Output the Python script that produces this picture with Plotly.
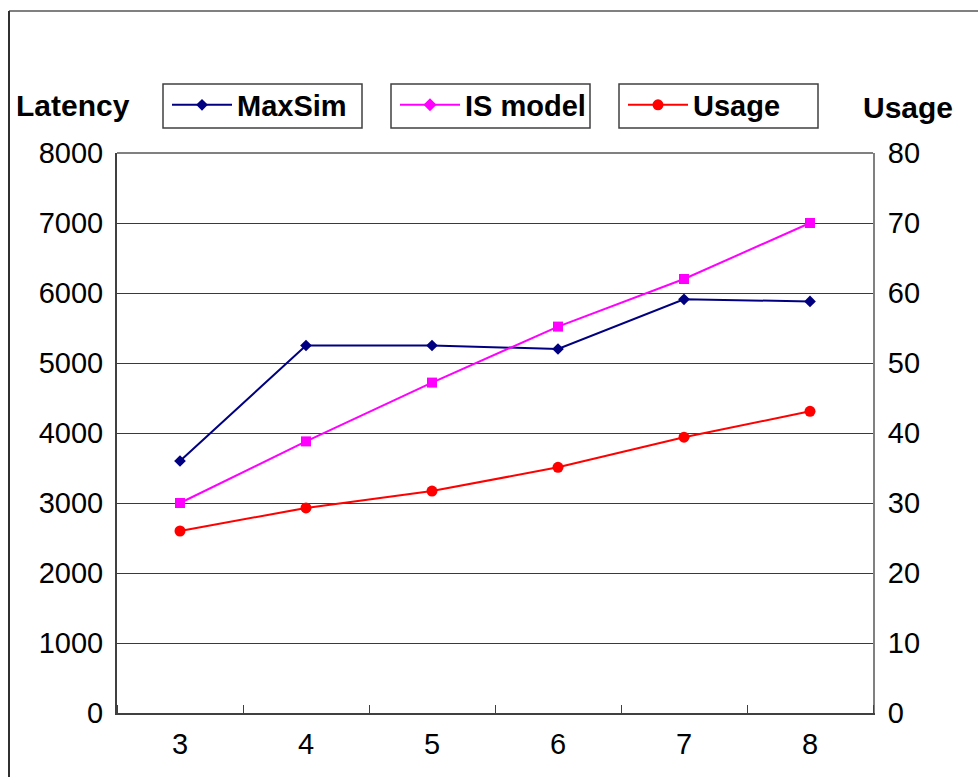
import plotly.graph_objects as go

categories = [3, 4, 5, 6, 7, 8]
maxsim = [3600, 5250, 5250, 5200, 5910, 5880]
is_model = [3000, 3880, 4720, 5520, 6200, 7000]
usage = [26.0, 29.3, 31.7, 35.1, 39.4, 43.1]

FONT = "Liberation Sans, Arial, sans-serif"
NAVY = "#000080"
MAGENTA = "#FF00FF"
RED = "#FF0000"

W, H = 978, 777
L, R, T, B = 117, 105, 153, 64
PW, PH = W - L - R, H - T - B

def px(x):
    return (x - L) / PW

def py(y):
    return (H - B - y) / PH

fig = go.Figure()

fig.add_trace(go.Scatter(x=categories, y=maxsim, name="MaxSim", mode="lines+markers",
                         line=dict(color=NAVY, width=2),
                         marker=dict(symbol="diamond", size=9, color=NAVY),
                         legend="legend"))
fig.add_trace(go.Scatter(x=categories, y=is_model, name="IS model", mode="lines+markers",
                         line=dict(color=MAGENTA, width=2),
                         marker=dict(symbol="square", size=10, color=MAGENTA),
                         showlegend=False))
fig.add_trace(go.Scatter(x=[None], y=[None], name="IS model", mode="lines+markers",
                         line=dict(color=MAGENTA, width=2),
                         marker=dict(symbol="diamond", size=10, color=MAGENTA),
                         legend="legend2"))
fig.add_trace(go.Scatter(x=categories, y=usage, name="Usage", mode="lines+markers",
                         yaxis="y2",
                         line=dict(color=RED, width=2),
                         marker=dict(symbol="circle", size=11, color=RED),
                         legend="legend3"))

legend_font = dict(family=FONT, size=29, color="black", weight="bold")
box_x = [(163, 362), (391, 590), (619, 818)]
legend_common = dict(font=legend_font, bgcolor="rgba(0,0,0,0)", borderwidth=0,
                     xanchor="left", yanchor="middle", y=py(105), itemwidth=60)

fig.update_layout(
    width=W, height=H,
    margin=dict(l=L, r=R, t=T, b=B, pad=0),
    paper_bgcolor="white", plot_bgcolor="white",
    font=dict(family=FONT, size=29, color="black"),
    legend=dict(x=px(box_x[0][0] + 4), **legend_common),
    legend2=dict(x=px(box_x[1][0] + 4), **legend_common),
    legend3=dict(x=px(box_x[2][0] + 4), **legend_common),
    xaxis=dict(range=[2.5, 8.5], tickvals=categories, ticktext=[str(c) for c in categories],
               ticks="", showgrid=False, zeroline=False,
               showline=True, linecolor="#404040", linewidth=2,
               ticklabelstandoff=4,
               minor=dict(tickvals=[2.5 + i for i in range(7)], ticks="inside",
                          ticklen=8, tickcolor="#404040", tickwidth=1, showgrid=False),
               tickfont=dict(family=FONT, size=29)),
    yaxis=dict(range=[0, 8000], dtick=1000, tick0=0, ticks="",
               showgrid=True, gridcolor="#3a3a3a", gridwidth=1, zeroline=False,
               showline=True, linecolor="#404040", linewidth=2,
               ticklabelstandoff=6,
               tickfont=dict(family=FONT, size=29)),
    yaxis2=dict(range=[0, 80], dtick=10, tick0=0, overlaying="y", side="right",
                ticks="", showgrid=False, zeroline=False,
                showline=True, linecolor="#808080", linewidth=2,
                ticklabelstandoff=7,
                tickfont=dict(family=FONT, size=29)),
    showlegend=True,
)

shapes = []
# outer frame
shapes.append(dict(type="line", xref="paper", yref="paper", x0=px(9), x1=px(990), y0=py(11), y1=py(11),
                   line=dict(color="#808080", width=2)))
shapes.append(dict(type="line", xref="paper", yref="paper", x0=px(9), x1=px(9), y0=py(11), y1=py(790),
                   line=dict(color="#303030", width=2)))
# top border of plot area
shapes.append(dict(type="line", xref="paper", yref="paper", x0=0, x1=1, y0=1, y1=1,
                   line=dict(color="#808080", width=2)))
# legend boxes
for x0, x1 in box_x:
    shapes.append(dict(type="rect", xref="paper", yref="paper", x0=px(x0), x1=px(x1),
                       y0=py(128), y1=py(84), line=dict(color="#404040", width=1.5),
                       fillcolor="rgba(0,0,0,0)"))
fig.update_layout(shapes=shapes)

fig.add_annotation(text="<b>Latency</b>", xref="paper", yref="paper", x=px(14), y=py(105),
                   xanchor="left", yanchor="middle", showarrow=False,
                   font=dict(family=FONT, size=30, color="black"))
fig.add_annotation(text="<b>Usage</b>", xref="paper", yref="paper", x=px(861), y=py(107),
                   xanchor="left", yanchor="middle", showarrow=False,
                   font=dict(family=FONT, size=30, color="black"))

fig.write_html("out.html", config={"displayModeBar": False},
               post_script="document.body.style.margin='0';document.body.style.overflow='hidden';")
